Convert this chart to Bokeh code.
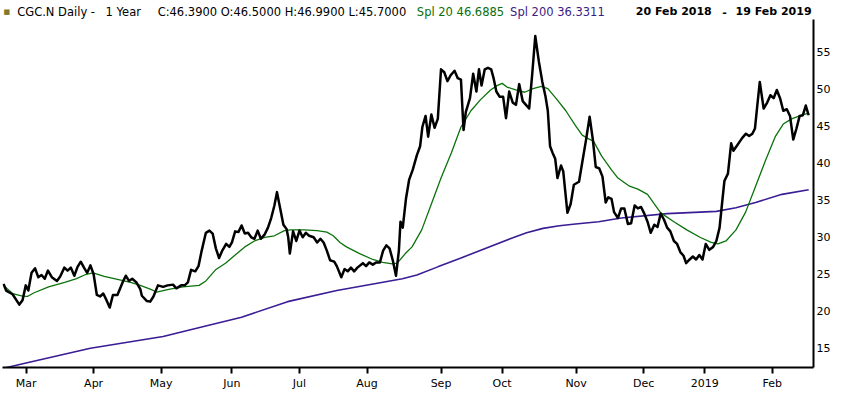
from bokeh.plotting import figure
from bokeh.models import Range1d, FixedTicker, LinearAxis, Label
from bokeh.embed import file_html
from bokeh.resources import INLINE

# ---------------- data (trading-day index from 20 Feb 2018) ----------------
price_day = [0, 0.8, 2.8, 4.9, 5.9, 6.9, 7.7, 8.7, 9.8, 10.8, 11.8, 12.8, 13.8, 15, 16.6, 17.6,
             18.9, 19.9, 20.9, 22, 23, 24, 25, 26, 27, 28, 29, 30, 31, 32, 33, 34, 35.4, 37, 38,
             39, 40, 41.3, 42.5, 43, 44.5, 45.6, 46.6, 48, 49.6, 51, 52.7, 53.7, 55.2, 56.3, 57.3,
             58.3, 59.6, 60.6, 61.6, 62.9, 64, 65, 66, 67, 68, 69.2, 70.2, 71, 72, 73, 74, 75, 76,
             77, 78, 79, 80, 81.2, 82.2, 83.2, 84.2, 85, 86, 87, 88, 88.5, 89, 90, 91, 92, 93, 94,
             95, 96.4, 97.5, 98.5, 99.5, 100.5, 101.5, 102.8, 103.6, 105, 106, 107, 108, 109, 110,
             111.7, 112.7, 113.7, 114.8, 115.8, 117, 118, 119, 120, 121, 122, 122.9, 123.4, 124.1,
             125.1, 126.1, 127.2, 128.5, 129.5, 130.2, 131.2, 132, 133, 134, 135, 136, 137, 138,
             139, 140.2, 141.2, 142.2, 143, 143.7, 145, 146, 147, 147.8, 148.6, 149.6, 150.6, 151.6,
             152.4, 153.2, 154.2, 155.3, 156.2, 157.2, 158.3, 159.3, 160.3, 161.4, 162.4, 163.4,
             164.4, 165.3, 166.4, 167.5, 168.5, 169.2, 169.9, 170.7, 171.5, 172.2, 173.3, 174,
             174.6, 175.3, 176.3, 177.3, 178.9, 179.9, 181.1, 182.2, 183.2, 184.1, 185.2, 186.2,
             187.2, 188, 189, 189.8, 191, 192, 193, 194.1, 195.1, 196.2, 197.2, 198.2, 199.2,
             200.2, 201.2, 202.3, 203.3, 204.3, 205.3, 206.3, 207.3, 208.4, 209.4, 210.4, 211.4,
             212.2, 213.3, 214.3, 215.3, 216.3, 217.3, 218.3, 219.4, 220.6, 221.6, 222.6, 223.4,
             224.1, 225.2, 226.2, 226.9, 228.2, 229.6, 230.8, 231.8, 232.8, 233.6, 234.3, 235.1,
             236.3, 237.4, 238.4, 239.4, 240.4, 241.4, 242.4, 243.5, 244.5, 245.5, 246.5, 247.5,
             248.5, 249.4, 250.3]
price_close = [23.6, 22.7, 22.2, 20.8, 21.4, 23.4, 22.7, 25.1, 25.7, 24.5, 24.8, 24.3, 25.4, 24.5,
               24.0, 24.6, 25.8, 25.4, 25.8, 24.7, 25.9, 26.6, 25.8, 25.1, 26.1, 24.9, 22.1, 21.9,
               22.3, 21.4, 20.4, 22.1, 22.1, 23.8, 24.7, 24.0, 24.3, 23.8, 22.9, 22.0, 21.3, 21.2,
               21.9, 23.4, 23.2, 23.4, 23.5, 23.0, 23.4, 23.4, 23.8, 25.5, 25.3, 26.0, 28.1, 30.5,
               30.8, 30.4, 28.4, 27.1, 28.1, 29.0, 28.6, 29.2, 30.7, 30.6, 31.5, 30.4, 30.5, 29.9,
               29.7, 30.8, 29.7, 30.3, 31.2, 32.5, 34.2, 36.0, 33.8, 31.6, 31.0, 29.9, 27.7, 30.7,
               29.4, 30.8, 29.9, 30.5, 30.1, 29.9, 29.2, 29.7, 29.2, 28.1, 26.8, 26.6, 26.0, 24.5,
               25.6, 25.3, 25.8, 25.3, 25.8, 26.4, 26.0, 26.5, 26.2, 26.5, 26.5, 28.1, 28.8, 28.4,
               26.8, 24.7, 28.1, 32.0, 31.2, 35.1, 37.7, 39.0, 41.0, 42.2, 44.8, 46.3, 43.5, 46.5,
               44.7, 45.9, 52.6, 52.2, 51.0, 51.8, 52.4, 51.4, 51.2, 44.4, 46.8, 48.7, 52.0, 49.6,
               52.6, 50.4, 52.6, 52.8, 52.6, 51.3, 49.6, 48.9, 48.9, 46.0, 49.6, 48.1, 47.8, 50.6,
               48.3, 47.8, 47.3, 52.2, 57.1, 53.7, 50.9, 48.9, 47.0, 42.2, 41.3, 40.5, 37.9, 39.6,
               38.8, 36.2, 33.2, 34.4, 37.0, 37.4, 40.0, 43.1, 46.2, 43.1, 39.4, 39.2, 38.1, 34.6,
               35.3, 35.1, 33.3, 32.5, 33.8, 33.8, 31.7, 31.8, 34.2, 33.8, 34.0, 33.1, 32.0, 30.5,
               31.6, 31.3, 33.1, 32.3, 31.2, 30.7, 29.4, 29.0, 27.9, 27.4, 26.4, 26.9, 27.3, 26.9,
               27.5, 26.9, 29.0, 28.2, 28.6, 29.4, 31.2, 34.6, 37.5, 38.5, 42.6, 41.6, 42.4, 43.3,
               43.9, 43.6, 43.9, 44.6, 47.6, 50.9, 47.3, 48.1, 49.1, 48.7, 49.8, 48.7, 47.0, 47.2,
               46.3, 43.1, 44.6, 46.3, 46.4, 47.7, 46.39]

sma20_day = [0, 2.8, 5.9, 7.4, 9.5, 14, 19, 22.7, 25.7, 27.8, 31.3, 35.4, 39.5, 42.5, 45.6, 47.6,
             51.7, 55.8, 60.8, 62.9, 65.9, 69, 72, 75, 78, 81.2, 84.2, 87.3, 89.3, 93.4, 97.5,
             100.5, 102.5, 104.6, 106.6, 110.7, 114.8, 117.8, 120.9, 122.4, 124.9, 127, 130, 133,
             136, 139.2, 142.2, 145.3, 148.3, 151.4, 153.4, 155, 156.5, 159.5, 162, 164.6, 167.2,
             169.2, 171.7, 174.8, 177.8, 179.9, 181.9, 183.4, 185.9, 189, 191, 194.6, 197.2,
             200.2, 202.3, 204.3, 208.4, 212.4, 216.5, 220, 222.1, 224.6, 227.7, 230.7, 233.8,
             236.9, 239.9, 242.4, 245, 248.1, 250.3]
sma20_val = [23.4, 22.3, 21.95, 21.9, 22.4, 23.2, 23.8, 24.3, 24.9, 25.1, 24.6, 24.2, 23.8, 23.4,
             22.9, 22.5, 22.9, 23.2, 23.4, 24.0, 25.5, 26.4, 27.5, 28.6, 29.4, 29.9, 30.1, 30.8,
             30.9, 30.9, 30.8, 30.6, 30.1, 29.2, 28.6, 27.7, 26.9, 26.5, 26.3, 26.4, 27.7, 28.6,
             30.9, 34.4, 37.9, 41.3, 44.8, 47.0, 48.5, 49.8, 50.4, 50.7, 50.2, 49.8, 49.5, 50.0,
             50.3, 50.0, 48.7, 47.0, 45.0, 43.7, 43.2, 42.9, 40.9, 39.0, 37.9, 36.8, 36.4, 35.7,
             34.4, 33.2, 32.0, 30.9, 29.9, 29.2, 29.0, 29.4, 30.9, 33.3, 36.8, 40.3, 43.5, 45.2,
             45.9, 46.4, 46.69]

sma200_day = [0, 7, 27, 49.6, 61.9, 74, 88.3, 103.6, 118.8, 124, 128.5, 135, 142.2, 157.5, 162.6,
              167.7, 172.8, 177.8, 185, 192, 206.3, 221.6, 227.7, 233.8, 242, 250.3]
sma200_val = [12.2, 12.9, 14.9, 16.5, 17.8, 19.1, 21.2, 22.7, 23.9, 24.3, 24.8, 25.9, 27.1, 29.7,
              30.5, 31.1, 31.45, 31.7, 32.0, 32.5, 33.1, 33.4, 33.9, 34.6, 35.7, 36.33]

month_tick_day = [7, 28, 49, 71, 92, 113, 136, 155, 178, 199, 218, 239]
month_tick_label = ["Mar", "Apr", "May", "Jun", "Jul", "Aug", "Sep", "Oct", "Nov", "Dec", "2019", "Feb"]
price_ticks = [15, 20, 25, 30, 35, 40, 45, 50, 55]

header_main = ["CGC.N Daily -", "1 Year", "C:46.3900 O:46.5000 H:46.9900 L:45.7000"]
header_spl20 = "Spl 20 46.6885"
header_spl200 = "Spl 200 36.3311"
header_dates = ["20 Feb 2018", "-", "19 Feb 2019"]

# ---------------- layout ----------------
W, H = 834, 393
X0, X1 = -0.33, 251.8          # frame spans these trading-day positions
Y0, Y1 = 12.3, 61.9            # frame runs up to the top edge (header sits inside it)
AXIS_TOP = 59.3                # right axis line starts here
FONT = "DejaVu Sans"

p = figure(width=W, height=H, output_backend="svg", toolbar_location=None,
           x_range=Range1d(X0, X1), y_range=Range1d(Y0, Y1),
           x_axis_location=None, y_axis_location=None,
           min_border_left=2, min_border_right=21, min_border_top=0, min_border_bottom=26,
           background_fill_color="white", border_fill_color="white")
p.outline_line_color = None
p.grid.visible = False

xax = LinearAxis(ticker=FixedTicker(ticks=month_tick_day),
                 major_label_overrides={d: l for d, l in zip(month_tick_day, month_tick_label)})
xax.axis_line_color = "black"
xax.axis_line_width = 2
xax.major_tick_line_color = "black"
xax.major_tick_line_width = 2
xax.major_tick_out = 6
xax.major_tick_in = 0
xax.minor_tick_line_color = None
xax.major_label_text_align = "left"
xax.major_label_standoff = 3
xax.major_label_text_font = FONT
xax.major_label_text_font_size = "11px"
xax.major_label_text_color = "black"
p.add_layout(xax, "below")

yax = LinearAxis(ticker=FixedTicker(ticks=price_ticks), bounds=(Y0, AXIS_TOP))
yax.axis_line_color = "black"
yax.axis_line_width = 2
yax.major_tick_line_color = None
yax.major_tick_out = 0
yax.major_tick_in = 0
yax.minor_tick_line_color = None
yax.major_label_standoff = 3
yax.major_label_text_font = FONT
yax.major_label_text_font_size = "11px"
yax.major_label_text_color = "black"
p.add_layout(yax, "right")

p.line(sma200_day, sma200_val, line_color="#3a1c94", line_width=1.6)
p.line(sma20_day, sma20_val, line_color="#0b720b", line_width=1.3)
p.line(price_day, price_close, line_color="black", line_width=2.5, line_join="round")

# header labels: placed by the reference's pixel columns, mapped onto the frame span
REF_L, REF_R = 3.0, 829.0       # reference frame edges in its pixels


def hx(ref_px):
    return X0 + (ref_px - REF_L) / (REF_R - REF_L) * (X1 - X0)


HY = 60.35


def hlabel(ref_px, text, color="black", align="left", style="normal", size="11.5px"):
    p.add_layout(Label(x=hx(ref_px), y=HY, text=text, text_font=FONT, text_font_size=size,
                       text_font_style=style, text_color=color, text_align=align,
                       text_baseline="middle"))


p.add_layout(Label(x=hx(4), y=HY, text="■", text_font=FONT, text_font_size="7px",
                   text_color="#7d7a2e", text_baseline="middle"))
hlabel(18, header_main[0])
hlabel(108, header_main[1])
hlabel(161, header_main[2])
hlabel(425, header_spl20, color="#0b6e0b")
hlabel(520, header_spl200, color="#3a1c84")
hlabel(648, header_dates[0], style="bold", size="11px")
hlabel(736, header_dates[1], style="bold", size="11px")
hlabel(827, header_dates[2], align="right", style="bold", size="11px")

open("out.html", "w").write(file_html(p, INLINE))
